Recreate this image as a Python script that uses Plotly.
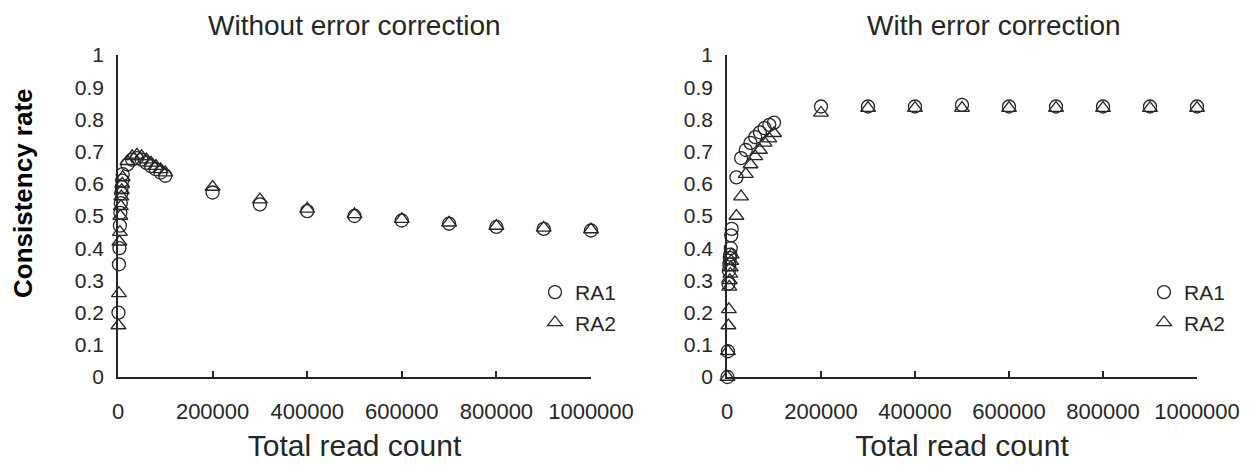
import plotly.graph_objects as go

read_counts = [1000, 2000, 3000, 4000, 5000, 6000, 7000, 8000, 9000, 10000,
               20000, 30000, 40000, 50000, 60000, 70000, 80000, 90000, 100000,
               200000, 300000, 400000, 500000, 600000, 700000, 800000, 900000, 1000000]

without_ra1 = [0.20, 0.35, 0.40, 0.47, 0.51, 0.54, 0.57, 0.59, 0.61, 0.63,
               0.66, 0.675, 0.68, 0.675, 0.665, 0.655, 0.645, 0.635, 0.625,
               0.573, 0.536, 0.515, 0.50, 0.486, 0.476, 0.466, 0.46, 0.455]
without_ra2 = [0.16, 0.26, 0.42, 0.45, 0.50, 0.53, 0.56, 0.58, 0.60, 0.62,
               0.67, 0.685, 0.69, 0.685, 0.675, 0.665, 0.655, 0.645, 0.635,
               0.59, 0.551, 0.522, 0.505, 0.49, 0.479, 0.469, 0.463, 0.458]

with_ra1 = [0.0, 0.08, 0.29, 0.33, 0.35, 0.37, 0.38, 0.40, 0.44, 0.46,
            0.62, 0.68, 0.705, 0.727, 0.745, 0.76, 0.773, 0.783, 0.79,
            0.84, 0.84, 0.84, 0.845, 0.84, 0.84, 0.84, 0.84, 0.84]
with_ra2 = [0.0, 0.08, 0.16, 0.21, 0.28, 0.30, 0.32, 0.34, 0.36, 0.38,
            0.50, 0.56, 0.63, 0.66, 0.685, 0.705, 0.727, 0.74, 0.757,
            0.82, 0.835, 0.835, 0.835, 0.835, 0.835, 0.835, 0.835, 0.835]

y_ticks = [0, 0.1, 0.2, 0.3, 0.4, 0.5, 0.6, 0.7, 0.8, 0.9, 1]
y_tick_labels = ["0", "0.1", "0.2", "0.3", "0.4", "0.5", "0.6", "0.7", "0.8", "0.9", "1"]
x_ticks = [0, 200000, 400000, 600000, 800000, 1000000]
x_tick_labels = ["0", "200000", "400000", "600000", "800000", "1000000"]

FONT = "Liberation Sans, Arial, sans-serif"
INK = "#262626"
PAGE_OFFSET = 8  # default body margin of the html page
W, H = 1249 - PAGE_OFFSET, 466 - PAGE_OFFSET

def px(v):
    return (v - PAGE_OFFSET) / W

def py(v):
    return 1 - (v - PAGE_OFFSET) / H

fig = go.Figure()

def add(x, y, name, symbol, xa, ya, leg):
    fig.add_trace(go.Scatter(
        x=x, y=y, mode="markers", name=name, xaxis=xa, yaxis=ya, legend=leg,
        cliponaxis=False,
        marker=dict(symbol=symbol, size=13, color=INK, line=dict(width=1.3, color=INK)),
    ))

add(read_counts, without_ra1, "RA1", "circle-open", "x", "y", "legend")
add(read_counts, without_ra2, "RA2", "triangle-up-open", "x", "y", "legend")
add(read_counts, with_ra1, "RA1", "circle-open", "x2", "y2", "legend2")
add(read_counts, with_ra2, "RA2", "triangle-up-open", "x2", "y2", "legend2")

xcommon = dict(range=[0, 1000000], tickvals=x_ticks, ticktext=x_tick_labels,
               showline=True, linecolor=INK, linewidth=1.5, showgrid=False, zeroline=False,
               ticks="inside", ticklen=6, tickcolor=INK, tickwidth=1.5,
               ticklabelstandoff=14, automargin=False,
               tickfont=dict(family=FONT, size=22, color=INK),
               title=dict(text="Total read count", font=dict(family=FONT, size=30, color=INK), standoff=12))
ycommon = dict(range=[0, 1], tickvals=y_ticks, ticktext=y_tick_labels,
               showline=True, linecolor=INK, linewidth=1.5, showgrid=False, zeroline=False,
               ticks="", ticklabelstandoff=8, automargin=False,
               tickfont=dict(family=FONT, size=21, color=INK))

legend_common = dict(xanchor="left", yanchor="top",
                     font=dict(family=FONT, size=21, color=INK), itemwidth=30,
                     bgcolor="rgba(0,0,0,0)", tracegroupgap=0)

fig.update_layout(
    width=W, height=H,
    margin=dict(l=0, r=0, t=0, b=0, autoexpand=False),
    paper_bgcolor="white", plot_bgcolor="white",
    xaxis=dict(domain=[px(118), px(591)], anchor="y", **xcommon),
    yaxis=dict(domain=[py(377), py(55)], anchor="x", **ycommon),
    xaxis2=dict(domain=[px(727), px(1197)], anchor="y2", **xcommon),
    yaxis2=dict(domain=[py(377), py(55)], anchor="x2", **ycommon),
    legend=dict(x=px(535), y=py(272), **legend_common),
    legend2=dict(x=px(1144), y=py(272), **legend_common),
    annotations=[
        dict(text="Without error correction", x=px(354), y=py(25), xref="paper", yref="paper",
             showarrow=False, xanchor="center", yanchor="middle",
             font=dict(family=FONT, size=28, color=INK)),
        dict(text="With error correction", x=px(994), y=py(25), xref="paper", yref="paper",
             showarrow=False, xanchor="center", yanchor="middle",
             font=dict(family=FONT, size=28, color=INK)),
        dict(text="<b>Consistency rate</b>", x=px(23), y=py(193), xref="paper", yref="paper",
             showarrow=False, textangle=-90, xanchor="center", yanchor="middle",
             font=dict(family=FONT, size=26, color="#000000")),
    ],
)

fig.write_html("out.html")
